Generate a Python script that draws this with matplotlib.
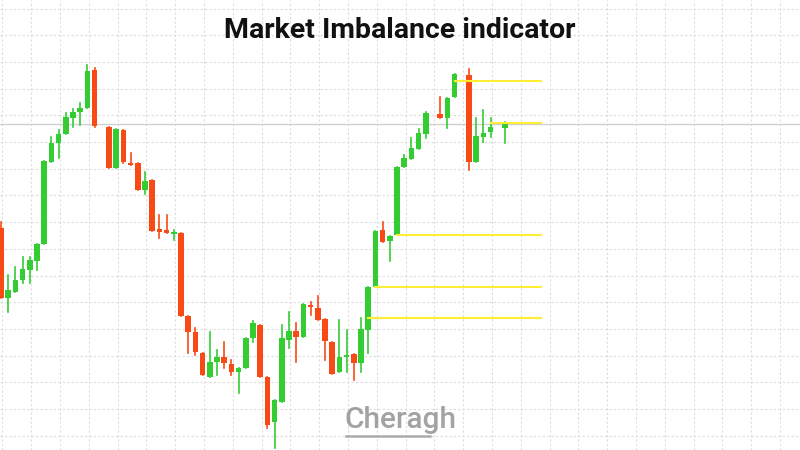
import matplotlib.pyplot as plt
import numpy as np

# candle slots (bar index), open/close/high/low as price levels
idx = [0, 1, 2, 3, 4, 5, 6, 7, 8, 9, 10, 11, 12, 13, 15, 16, 17, 18, 19, 20,
       21, 22, 23, 24, 25, 26, 27, 28, 29, 30, 31, 32, 33, 34, 35, 36, 37, 38, 39, 40,
       41, 42, 43, 44, 45, 46, 47, 48, 49, 50, 51, 52, 53, 54, 55, 56, 57, 58, 59, 61,
       62, 63, 65, 66, 67, 68, 70]
opens = [228, 298, 292, 280, 270, 261, 244, 162, 143, 134, 118, 112, 108, 70, 127, 168, 130, 163, 163, 190,
         180, 229, 230, 234, 233, 316, 332, 353, 377, 362, 357, 364, 372, 368, 338, 325, 377, 422, 402, 340,
         331, 337, 305, 308, 319, 342, 372, 357, 354, 363, 330, 287, 230, 241, 235, 167, 159, 149, 134, 114,
         118, 97, 75, 162, 137, 132, 128]
closes = [298, 290, 280, 269, 260, 244, 161, 143, 134, 117, 112, 108, 71, 126, 168, 129, 162, 165, 190, 181,
          231, 232, 233, 232, 316, 332, 352, 375, 362, 357, 363, 372, 368, 338, 323, 377, 425, 400, 338, 331,
          337, 304, 307, 320, 341, 374, 357, 355, 363, 329, 287, 231, 242, 236, 167, 158, 148, 133, 113, 118,
          98, 74, 162, 136, 133, 127, 124]
highs = [222, 275, 267, 257, 257, 244, 161, 137, 130, 113, 109, 103, 65, 68, 127, 129, 130, 153, 163, 172,
         180, 215, 215, 230, 233, 316, 328, 353, 332, 350, 342, 360, 368, 338, 321, 325, 377, 400, 325, 312,
         323, 304, 302, 296, 319, 342, 320, 330, 354, 318, 287, 231, 222, 236, 167, 155, 138, 129, 112, 97,
         98, 74, 69, 118, 110, 118, 122]
lows = [298, 312, 292, 283, 283, 270, 244, 162, 158, 134, 127, 125, 108, 127, 168, 168, 163, 165, 190, 194,
        231, 238, 233, 240, 316, 353, 355, 375, 377, 375, 368, 375, 393, 368, 342, 377, 428, 448, 402, 348,
        362, 337, 315, 320, 360, 374, 372, 372, 380, 372, 353, 287, 242, 261, 235, 167, 159, 149, 138, 118,
        128, 97, 170, 162, 142, 137, 143]
# imbalance levels: (start bar, price)
lvl_start = [63, 68, 55, 52, 51]
lvl_price = [81, 123, 235, 287, 318]

x0, dx = 1.0, 7.2
fig = plt.figure(figsize=(8, 4.5), dpi=100)
ax = fig.add_axes([0, 0, 1, 1])
ax.set_xlim(0, 800)
ax.set_ylim(450, 0)
ax.axis('off')

for gx in np.arange(2.3, 800, 28.8):
    ax.axvline(gx, color='#dcdcdc', lw=0.8, ls=(0, (2, 2)), zorder=0)
for gy in np.arange(8.5, 450, 26.7):
    ax.axhline(gy, color='#dcdcdc', lw=0.8, ls=(0, (2, 2)), zorder=0)
ax.axhline(124, color='#d0d0d0', lw=1.0, zorder=0)

green, red = '#33cc33', '#f74a15'
for i, o, c, h, l in zip(idx, opens, closes, highs, lows):
    x = x0 + i * dx
    col = green if c < o else red
    ax.plot([x, x], [h, l], color=col, lw=1.2, zorder=2)
    ax.bar(x, abs(o - c) or 1.5, bottom=min(o, c), width=5.5, color=col, zorder=3)

for s, p in zip(lvl_start, lvl_price):
    ax.plot([x0 + s * dx, 541], [p, p], color='#ffee33', lw=1.5, zorder=4)

ax.text(400, 30, 'Market Imbalance indicator', ha='center', va='center',
        fontsize=20.5, fontweight='bold', color='#111111', family='Roboto')
ax.text(400, 420, 'Cheragh', ha='center', va='center', fontsize=21.5,
        color='#8c8c8c', alpha=0.8, family='Roboto', fontweight='medium')
ax.plot([346, 430], [436, 436], color='#8c8c8c', lw=1.8, alpha=0.7)

fig.savefig('out.png', dpi=100)
